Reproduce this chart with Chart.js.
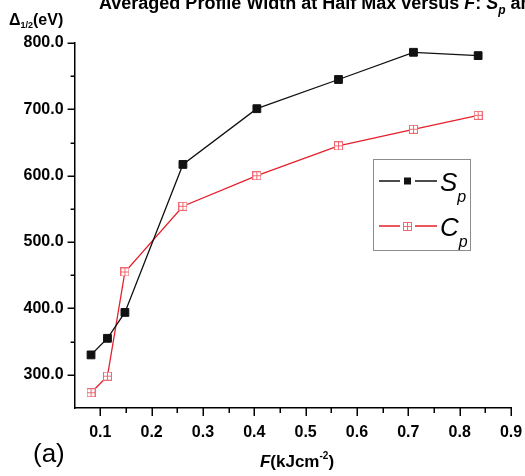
<!DOCTYPE html>
<html>
<head>
<meta charset="utf-8">
<script src="https://cdn.jsdelivr.net/npm/chart.js@4.4.0/dist/chart.umd.min.js"></script>
<style>
  html, body { margin: 0; padding: 0; background: #fff; }
  #wrap { width: 525px; height: 476px; position: relative; }
</style>
</head>
<body>
<div id="wrap"><canvas id="c" width="525" height="476"></canvas></div>
<script>
// Laser fluence F (kJ cm^-2)
const fluence = [0.082, 0.114, 0.148, 0.261, 0.405, 0.564, 0.710, 0.836];
// Averaged profile width at half max, Δ1/2 (eV)
const widthSp = [330, 355, 394, 617, 701, 745, 786, 781];
const widthCp = [273, 298, 455, 554, 600, 645, 670, 691];
// Labelled (major) tick values
const xMajorTicks = [0.1, 0.2, 0.3, 0.4, 0.5, 0.6, 0.7, 0.8, 0.9];
const yMajorTicks = [300, 400, 500, 600, 700, 800];

const FONT = '"Liberation Sans", Arial, Helvetica, sans-serif';
const SP_COLOR = '#111111';
const CP_LINE = '#e5202b';
const CP_MARK = '#ef6a72';

function isMajor(v, list) {
  return list.some(m => Math.abs(m - v) < 1e-6);
}

// open square with a cross inside, used for the Cp points
function makeCrossSquare(size, color) {
  const cv = document.createElement('canvas');
  cv.width = size; cv.height = size;
  const g = cv.getContext('2d');
  g.fillStyle = '#fff';
  g.fillRect(0.5, 0.5, size - 1, size - 1);
  g.strokeStyle = color;
  g.lineWidth = 1;
  g.strokeRect(0.5, 0.5, size - 1, size - 1);
  const m = Math.floor(size / 2) + 0.5;
  g.beginPath();
  g.moveTo(0.5, m); g.lineTo(size - 0.5, m);
  g.moveTo(m, 0.5); g.lineTo(m, size - 0.5);
  g.stroke();
  return cv;
}
const cpMarker = makeCrossSquare(9, CP_MARK);

const spPoints = fluence.map((x, i) => ({ x, y: widthSp[i] }));
const cpPoints = fluence.map((x, i) => ({ x, y: widthCp[i] }));

// draw a run of text pieces left to right, each with its own font and y offset
function drawRuns(ctx, x, y, runs) {
  let cx = x;
  runs.forEach(r => {
    ctx.font = r.font;
    ctx.fillText(r.text, cx, y + (r.dy || 0));
    cx += ctx.measureText(r.text).width;
  });
  return cx;
}
function runsWidth(ctx, runs) {
  let w = 0;
  runs.forEach(r => { ctx.font = r.font; w += ctx.measureText(r.text).width; });
  return w;
}

const decorPlugin = {
  id: 'decor',
  afterDraw(chart) {
    const ctx = chart.ctx;
    const xs = chart.scales.x, ys = chart.scales.y;
    ctx.save();

    // tick marks (outside), long for labelled values, short otherwise
    ctx.strokeStyle = '#000';
    ctx.lineWidth = 1.5;
    ctx.beginPath();
    ys.ticks.forEach(t => {
      if (t.value <= ys.min) return;
      const py = Math.round(ys.getPixelForValue(t.value)) + 0.25;
      const len = isMajor(t.value, yMajorTicks) ? 7 : 4;
      ctx.moveTo(ys.right - len, py);
      ctx.lineTo(ys.right, py);
    });
    xs.ticks.forEach(t => {
      if (t.value <= xs.min + 1e-9) return;
      const px = Math.round(xs.getPixelForValue(t.value)) + 0.25;
      const len = isMajor(t.value, xMajorTicks) ? 8 : 5;
      ctx.moveTo(px, xs.top);
      ctx.lineTo(px, xs.top + len);
    });
    ctx.stroke();

    ctx.fillStyle = '#000';
    ctx.textBaseline = 'alphabetic';
    ctx.textAlign = 'left';

    // chart title
    const B = 'bold 18px ' + FONT, BI = 'italic bold 18px ' + FONT, BIs = 'italic bold 12px ' + FONT;
    drawRuns(ctx, 99, 9, [
      { text: 'Averaged Profile Width at Half Max versus ', font: B },
      { text: 'F', font: BI },
      { text: ': ', font: B },
      { text: 'S', font: BI },
      { text: 'p', font: BIs, dy: 5 },
      { text: ' and ', font: B },
      { text: 'C', font: BI },
      { text: 'p', font: BIs, dy: 5 }
    ]);

    // y axis title
    drawRuns(ctx, 9, 25, [
      { text: 'Δ', font: 'bold 16px ' + FONT },
      { text: '1/2', font: 'bold 9px ' + FONT, dy: 3 },
      { text: '(eV)', font: 'bold 16px ' + FONT }
    ]);

    // x axis title
    const xt = [
      { text: 'F', font: 'italic bold 17px ' + FONT },
      { text: '(kJcm', font: 'bold 17px ' + FONT },
      { text: '-2', font: 'bold 10px ' + FONT, dy: -8 },
      { text: ')', font: 'bold 17px ' + FONT }
    ];
    drawRuns(ctx, 297 - runsWidth(ctx, xt) / 2, 467, xt);

    // panel tag
    ctx.font = '26px ' + FONT;
    ctx.fillText('(a)', 33, 462);

    // legend
    ctx.strokeStyle = '#8c8c8c';
    ctx.lineWidth = 1;
    ctx.strokeRect(373.5, 159.5, 97, 91);

    const rows = [
      { y: 181, line: SP_COLOR, letter: 'S' },
      { y: 226, line: CP_LINE, letter: 'C' }
    ];
    rows.forEach((r, i) => {
      ctx.strokeStyle = r.line;
      ctx.lineWidth = 1.3;
      ctx.beginPath();
      ctx.moveTo(379, r.y); ctx.lineTo(400, r.y);
      ctx.moveTo(415, r.y); ctx.lineTo(437, r.y);
      ctx.stroke();
      if (i === 0) {
        ctx.fillStyle = SP_COLOR;
        ctx.fillRect(404, r.y - 3.5, 7, 7);
      } else {
        ctx.drawImage(cpMarker, 403, r.y - 4);
      }
      ctx.fillStyle = '#000';
      drawRuns(ctx, 440, r.y + 10, [
        { text: r.letter, font: 'italic 26px ' + FONT },
        { text: 'p', font: 'italic 16px ' + FONT, dy: 11 }
      ]);
    });

    ctx.restore();
  }
};

new Chart(document.getElementById('c'), {
  type: 'line',
  data: {
    datasets: [
      {
        label: 'Sp',
        data: spPoints,
        borderColor: SP_COLOR,
        backgroundColor: SP_COLOR,
        borderWidth: 1.3,
        pointStyle: 'rect',
        pointRadius: 5.5,
        pointBorderWidth: 1,
        pointBackgroundColor: SP_COLOR,
        pointBorderColor: SP_COLOR,
        tension: 0
      },
      {
        label: 'Cp',
        data: cpPoints,
        borderColor: CP_LINE,
        backgroundColor: CP_LINE,
        borderWidth: 1.3,
        pointStyle: cpMarker,
        tension: 0
      }
    ]
  },
  options: {
    responsive: false,
    animation: false,
    events: [],
    layout: { padding: { top: 43, right: 14, left: 0, bottom: 0 } },
    plugins: {
      legend: { display: false },
      title: { display: false },
      tooltip: { enabled: false }
    },
    scales: {
      x: {
        type: 'linear',
        min: 0.05,
        max: 0.9,
        grid: { display: false, drawTicks: false },
        border: { display: true, color: '#000', width: 1.5 },
        ticks: {
          stepSize: 0.05,
          autoSkip: false,
          maxRotation: 0,
          padding: 15,
          color: '#000',
          font: { family: FONT, size: 16, weight: 'bold' },
          callback: v => isMajor(v, xMajorTicks) ? v.toFixed(1) : ''
        },
        afterFit: s => { s.height = 68; s.paddingLeft = 0; s.paddingRight = 0; }
      },
      y: {
        type: 'linear',
        min: 250,
        max: 800,
        grid: { display: false, drawTicks: false },
        border: { display: true, color: '#000', width: 1.5 },
        ticks: {
          stepSize: 50,
          padding: 11,
          color: '#000',
          font: { family: FONT, size: 16, weight: 'bold' },
          callback: v => isMajor(v, yMajorTicks) ? v.toFixed(1) : ''
        },
        afterFit: s => { s.width = 74.6; s.paddingTop = 0; s.paddingBottom = 0; }
      }
    }
  },
  plugins: [decorPlugin]
});
</script>
</body>
</html>
